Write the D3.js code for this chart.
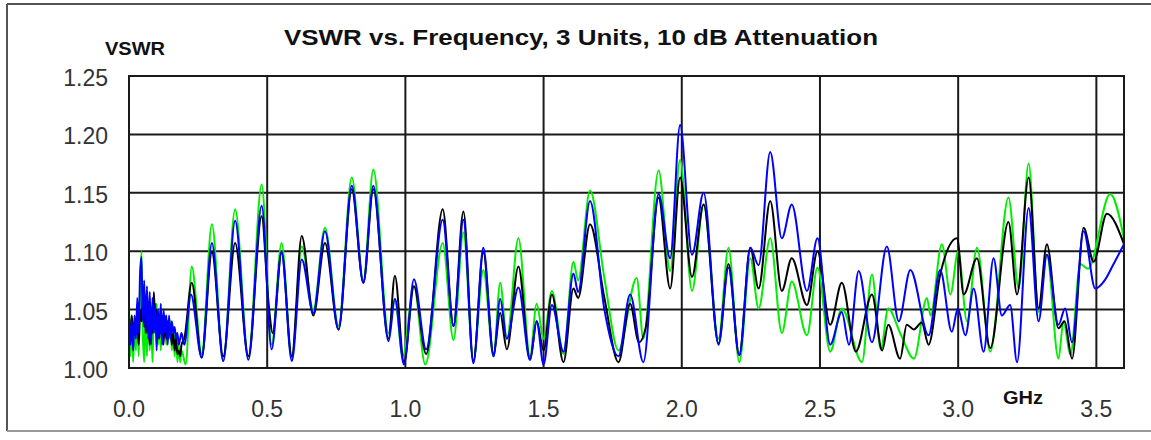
<!DOCTYPE html>
<html>
<head>
<meta charset="utf-8">
<script src="https://cdn.jsdelivr.net/npm/d3@7"></script>
<style>
  body { margin: 0; background: #fff; }
  svg { display: block; }
</style>
</head>
<body>
<svg width="1151" height="440"></svg>
<script>
// tick labels
const xTicks = [0, 0.5, 1.0, 1.5, 2.0, 2.5, 3.0, 3.5];
const yTicks = [1.00, 1.05, 1.10, 1.15, 1.20, 1.25];

// unit 1 (black) : [GHz, VSWR]
const blackSeries = [
  [0.000,1.035],[0.005,1.030],[0.010,1.045],[0.015,1.025],[0.020,1.040],[0.025,1.030],[0.030,1.045],[0.035,1.020],
  [0.040,1.050],[0.045,1.040],[0.050,1.060],[0.055,1.035],[0.060,1.055],[0.065,1.030],[0.070,1.050],[0.075,1.020],
  [0.080,1.045],[0.085,1.030],[0.090,1.065],[0.095,1.035],[0.100,1.050],[0.105,1.025],[0.110,1.045],[0.115,1.030],
  [0.120,1.040],[0.125,1.020],[0.130,1.045],[0.135,1.025],[0.140,1.040],[0.145,1.030],[0.150,1.035],[0.155,1.020],
  [0.160,1.030],[0.165,1.015],[0.170,1.025],[0.175,1.012],[0.180,1.015],[0.185,1.010],[0.190,1.020],
  [0.200,1.025],[0.227,1.073],[0.263,1.009],[0.300,1.099],[0.341,1.010],[0.384,1.107],[0.432,1.010],[0.480,1.130],
  [0.505,1.055],[0.520,1.030],[0.552,1.099],[0.589,1.010],[0.625,1.113],[0.667,1.045],[0.709,1.107],[0.758,1.033],
  [0.806,1.153],[0.848,1.073],[0.884,1.153],[0.939,1.025],[0.962,1.079],[0.995,1.005],[1.031,1.070],[1.075,1.012],
  [1.135,1.136],[1.174,1.036],[1.210,1.134],[1.246,1.006],[1.282,1.099],[1.319,1.012],[1.343,1.047],[1.367,1.016],
  [1.409,1.087],[1.451,1.007],[1.475,1.040],[1.500,1.015],[1.530,1.063],[1.572,1.005],[1.608,1.068],[1.625,1.060],
  [1.668,1.123],[1.720,1.060],[1.771,1.005],[1.813,1.055],[1.845,1.022],[1.870,1.035],[1.916,1.146],[1.958,1.068],
  [1.994,1.163],[2.037,1.078],[2.079,1.140],[2.133,1.021],[2.169,1.089],[2.208,1.011],[2.248,1.103],[2.278,1.068],
  [2.320,1.143],[2.362,1.066],[2.398,1.094],[2.453,1.054],[2.491,1.100],[2.537,1.037],[2.579,1.073],[2.630,1.014],
  [2.688,1.063],[2.725,1.015],[2.747,1.037],[2.790,1.008],[2.814,1.037],[2.840,1.033],[2.868,1.039],[2.893,1.020],
  [2.935,1.080],[2.996,1.111],[3.020,1.063],[3.068,1.094],[3.116,1.017],[3.182,1.125],[3.213,1.063],[3.255,1.163],
  [3.291,1.051],[3.321,1.106],[3.363,1.034],[3.385,1.040],[3.412,1.008],[3.454,1.120],[3.490,1.091],[3.538,1.132],
  [3.600,1.106]
];

// unit 2 (green)
const greenSeries = [
  [0.000,1.055],[0.005,1.010],[0.010,1.045],[0.015,1.005],[0.020,1.040],[0.025,1.015],[0.030,1.050],[0.035,1.010],
  [0.040,1.060],[0.045,1.100],[0.050,1.030],[0.055,1.005],[0.060,1.050],[0.065,1.010],[0.070,1.055],[0.075,1.015],
  [0.080,1.045],[0.085,1.005],[0.090,1.050],[0.095,1.030],[0.100,1.055],[0.105,1.020],[0.110,1.050],[0.115,1.015],
  [0.120,1.045],[0.125,1.030],[0.130,1.040],[0.135,1.020],[0.140,1.035],[0.145,1.025],[0.150,1.040],[0.155,1.015],
  [0.160,1.035],[0.165,1.010],[0.170,1.030],[0.175,1.005],[0.180,1.020],[0.185,1.005],[0.190,1.015],
  [0.205,1.003],[0.227,1.087],[0.263,1.012],[0.300,1.123],[0.341,1.006],[0.384,1.136],[0.432,1.010],[0.480,1.157],
  [0.516,1.020],[0.552,1.107],[0.589,1.008],[0.625,1.104],[0.667,1.050],[0.709,1.120],[0.758,1.036],[0.806,1.163],
  [0.848,1.075],[0.884,1.170],[0.939,1.030],[0.962,1.059],[0.990,1.010],[1.031,1.070],[1.072,1.003],[1.135,1.107],
  [1.174,1.024],[1.210,1.116],[1.246,1.006],[1.282,1.084],[1.319,1.010],[1.343,1.073],[1.367,1.025],[1.409,1.111],
  [1.451,1.010],[1.475,1.055],[1.500,1.025],[1.530,1.066],[1.572,1.012],[1.608,1.091],[1.625,1.075],[1.668,1.152],
  [1.720,1.077],[1.771,1.015],[1.837,1.077],[1.861,1.025],[1.916,1.169],[1.958,1.083],[1.994,1.178],[2.037,1.066],
  [2.079,1.140],[2.133,1.025],[2.169,1.103],[2.208,1.005],[2.248,1.094],[2.278,1.051],[2.320,1.111],[2.362,1.030],
  [2.398,1.074],[2.453,1.028],[2.491,1.086],[2.537,1.014],[2.579,1.051],[2.652,1.005],[2.688,1.080],[2.720,1.016],
  [2.747,1.051],[2.790,1.030],[2.840,1.008],[2.887,1.060],[2.900,1.045],[2.941,1.106],[2.972,1.063],[3.000,1.100],
  [3.032,1.040],[3.068,1.103],[3.116,1.014],[3.182,1.146],[3.219,1.068],[3.255,1.175],[3.291,1.048],[3.321,1.097],
  [3.363,1.008],[3.381,1.040],[3.406,1.011],[3.442,1.089],[3.470,1.085],[3.550,1.149],[3.600,1.111]
];

// unit 3 (blue)
const blueSeries = [
  [0.000,1.045],[0.005,1.020],[0.010,1.040],[0.015,1.015],[0.020,1.045],[0.025,1.025],[0.030,1.060],[0.035,1.030],
  [0.040,1.080],[0.045,1.095],[0.050,1.040],[0.055,1.075],[0.060,1.030],[0.065,1.070],[0.070,1.025],[0.075,1.065],
  [0.080,1.020],[0.085,1.060],[0.090,1.030],[0.095,1.055],[0.100,1.015],[0.105,1.050],[0.110,1.025],[0.115,1.055],
  [0.120,1.020],[0.125,1.050],[0.130,1.030],[0.135,1.045],[0.140,1.020],[0.145,1.045],[0.150,1.025],[0.155,1.040],
  [0.160,1.030],[0.165,1.035],[0.170,1.025],[0.175,1.030],[0.180,1.020],[0.185,1.025],[0.190,1.030],
  [0.200,1.020],[0.224,1.063],[0.263,1.009],[0.300,1.107],[0.341,1.006],[0.384,1.126],[0.432,1.007],[0.480,1.139],
  [0.516,1.016],[0.552,1.099],[0.589,1.006],[0.625,1.093],[0.667,1.047],[0.709,1.117],[0.758,1.033],[0.806,1.156],
  [0.848,1.073],[0.884,1.156],[0.939,1.023],[0.962,1.059],[0.995,1.003],[1.031,1.076],[1.075,1.016],[1.135,1.127],
  [1.174,1.036],[1.210,1.127],[1.246,1.004],[1.282,1.103],[1.319,1.010],[1.343,1.059],[1.367,1.025],[1.409,1.069],
  [1.451,1.007],[1.475,1.040],[1.500,1.003],[1.530,1.054],[1.572,1.014],[1.608,1.081],[1.625,1.065],[1.668,1.143],
  [1.720,1.050],[1.771,1.010],[1.813,1.063],[1.861,1.005],[1.916,1.149],[1.958,1.094],[1.994,1.208],[2.037,1.097],
  [2.079,1.150],[2.133,1.020],[2.169,1.086],[2.208,1.011],[2.248,1.103],[2.278,1.088],[2.320,1.185],[2.362,1.111],
  [2.398,1.140],[2.453,1.066],[2.491,1.111],[2.537,1.020],[2.579,1.048],[2.605,1.020],[2.640,1.083],[2.688,1.022],
  [2.742,1.104],[2.785,1.040],[2.827,1.084],[2.893,1.028],[2.935,1.084],[2.977,1.031],[2.999,1.051],[3.026,1.028],
  [3.056,1.068],[3.092,1.014],[3.128,1.094],[3.158,1.045],[3.188,1.054],[3.213,1.005],[3.255,1.137],[3.291,1.040],
  [3.321,1.097],[3.363,1.037],[3.387,1.051],[3.412,1.022],[3.454,1.117],[3.496,1.068],[3.530,1.075],[3.560,1.088],
  [3.600,1.106]
];

const svg = d3.select("svg");

// plot area
const plotLeft = 129, plotRight = 1124, plotTop = 76, plotBottom = 368;

const x = d3.scaleLinear().domain([0, 3.6]).range([plotLeft, plotRight]);
const y = d3.scaleLinear().domain([1.00, 1.25]).range([plotBottom, plotTop]);

// outer frame (runs off the right edge like the original)
svg.append("line").attr("x1", 7).attr("y1", 4).attr("x2", 1151).attr("y2", 4)
  .attr("stroke", "#555").attr("stroke-width", 2);
svg.append("line").attr("x1", 7).attr("y1", 4).attr("x2", 7).attr("y2", 431)
  .attr("stroke", "#555").attr("stroke-width", 2);
svg.append("line").attr("x1", 7).attr("y1", 431).attr("x2", 1151).attr("y2", 431)
  .attr("stroke", "#999").attr("stroke-width", 2);

// title and axis names
svg.append("text")
  .attr("x", 284).attr("y", 45)
  .attr("textLength", 594).attr("lengthAdjust", "spacingAndGlyphs")
  .style("font", "bold 22px 'Liberation Sans', Arial, sans-serif")
  .attr("fill", "#111")
  .text("VSWR vs. Frequency, 3 Units, 10 dB Attenuation");

svg.append("text")
  .attr("x", 105).attr("y", 55)
  .attr("textLength", 60).attr("lengthAdjust", "spacingAndGlyphs")
  .style("font", "bold 18px 'Liberation Sans', Arial, sans-serif")
  .attr("fill", "#111")
  .text("VSWR");

svg.append("text")
  .attr("x", 1003).attr("y", 404)
  .attr("textLength", 40).attr("lengthAdjust", "spacingAndGlyphs")
  .style("font", "bold 18px 'Liberation Sans', Arial, sans-serif")
  .attr("fill", "#111")
  .text("GHz");

// grid
const grid = svg.append("g").attr("stroke", "#1a1a1a").attr("stroke-width", 2);
grid.selectAll(".gx")
  .data(xTicks.filter(d => d > 0))
  .join("line")
  .attr("x1", d => x(d)).attr("x2", d => x(d))
  .attr("y1", plotTop).attr("y2", plotBottom);
grid.selectAll(".gy")
  .data(yTicks.filter(d => d > 1 && d < 1.25))
  .join("line")
  .attr("x1", plotLeft).attr("x2", plotRight)
  .attr("y1", d => y(d)).attr("y2", d => y(d));

// tick labels
svg.append("g")
  .selectAll("text")
  .data(yTicks)
  .join("text")
  .attr("x", 108)
  .attr("y", d => y(d) + 10)
  .attr("text-anchor", "end")
  .style("font", "23px 'Liberation Sans', Arial, sans-serif")
  .attr("fill", "#333")
  .text(d => d.toFixed(2));

svg.append("g")
  .selectAll("text")
  .data(xTicks)
  .join("text")
  .attr("x", d => x(d))
  .attr("y", 417)
  .attr("text-anchor", "middle")
  .style("font", "23px 'Liberation Sans', Arial, sans-serif")
  .attr("fill", "#333")
  .text(d => d.toFixed(1));

// curves
svg.append("clipPath").attr("id", "plotClip")
  .append("rect")
  .attr("x", plotLeft).attr("y", plotTop - 2)
  .attr("width", plotRight - plotLeft).attr("height", plotBottom - plotTop + 2);

const line = d3.line()
  .x(d => x(d[0]))
  .y(d => y(d[1]))
  .curve(d3.curveMonotoneX);

const curves = [
  { data: greenSeries, color: "#00ee00" },
  { data: blackSeries, color: "#000000" },
  { data: blueSeries, color: "#0000ff" }
];

svg.append("g")
  .attr("clip-path", "url(#plotClip)")
  .selectAll("path")
  .data(curves)
  .join("path")
  .attr("fill", "none")
  .attr("stroke", d => d.color)
  .attr("stroke-width", 2)
  .attr("stroke-linejoin", "round")
  .attr("d", d => line(d.data));

// plot border on top
svg.append("rect")
  .attr("x", plotLeft).attr("y", plotTop)
  .attr("width", plotRight - plotLeft).attr("height", plotBottom - plotTop)
  .attr("fill", "none")
  .attr("stroke", "#1a1a1a")
  .attr("stroke-width", 2);
</script>
</body>
</html>
